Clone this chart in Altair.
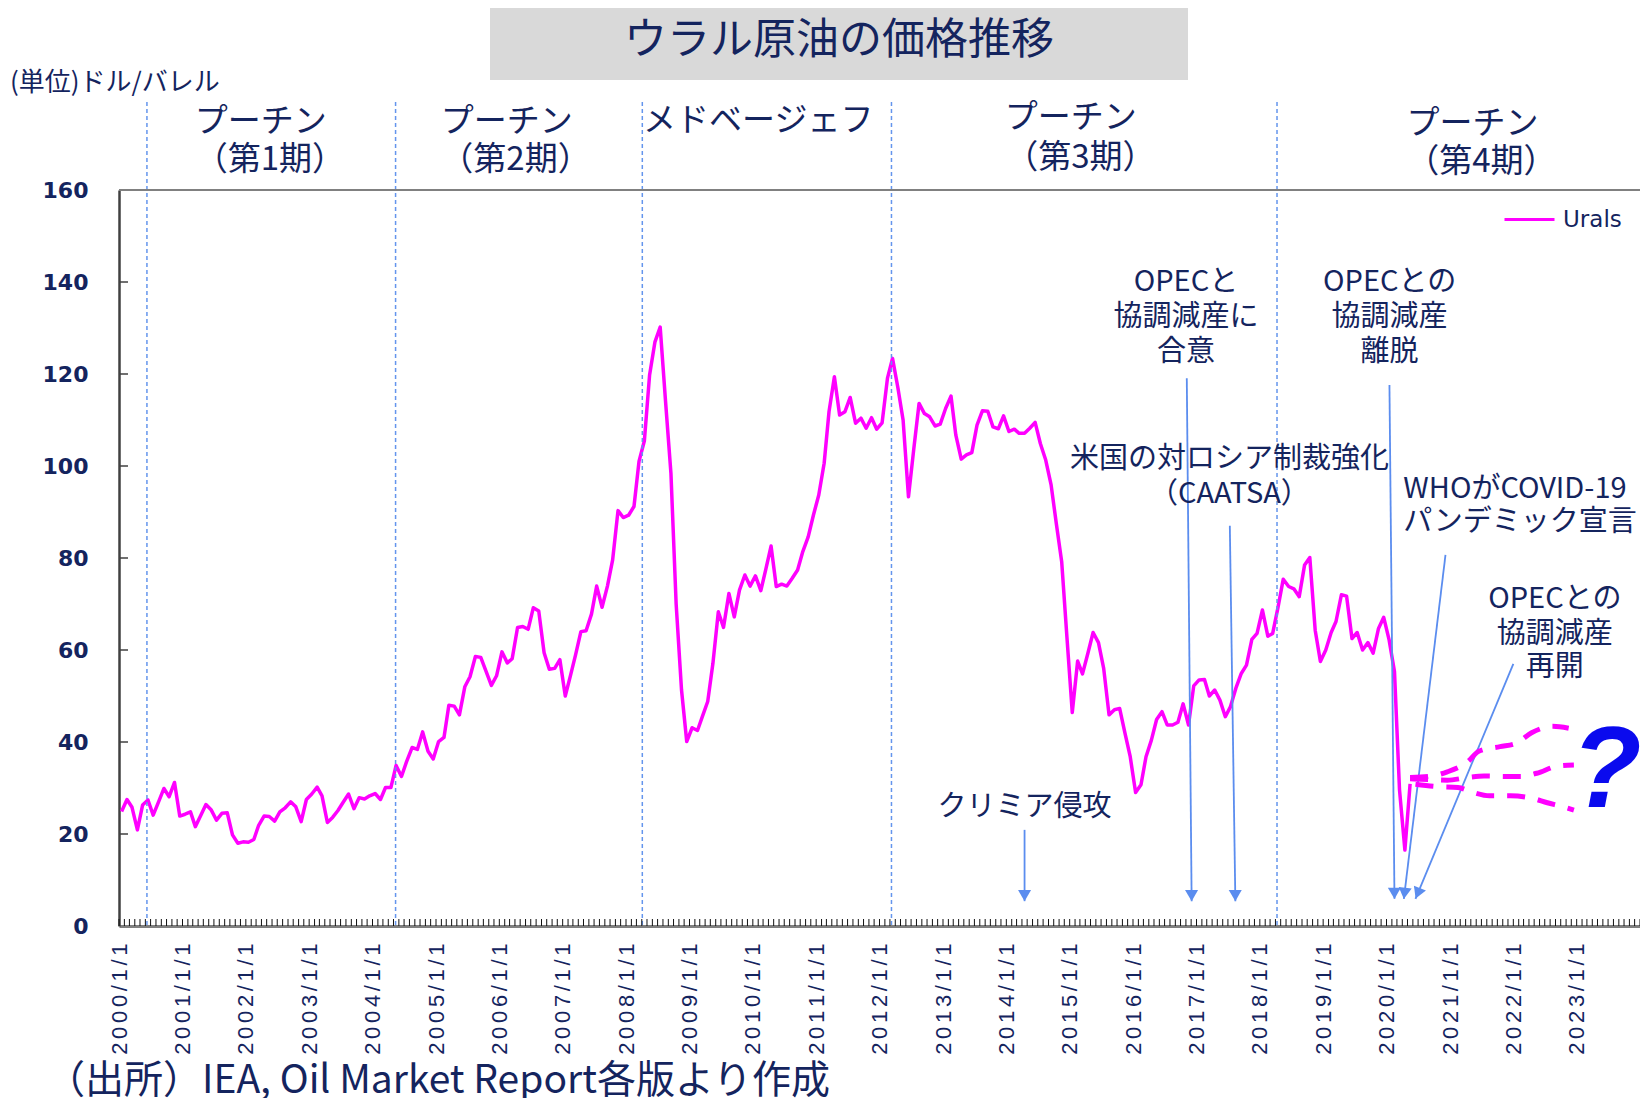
import altair as alt
import pandas as pd

NAVY = "#14245E"
MAGENTA = "#FF00FF"
GUIDE_BLUE = "#6495ED"
ARROW_BLUE = "#5B8DEF"
JP = "Noto Sans CJK JP"

# ---------------- data ----------------
series_name = "Urals"
urals = [
    24.9, 27.5, 25.8, 20.9, 26.3, 27.4, 24.1, 27.0, 29.9, 28.1, 31.2, 23.9,   # 2000
    24.3, 24.8, 21.6, 24.0, 26.4, 25.2, 23.0, 24.5, 24.6, 19.8, 18.0, 18.3,   # 2001
    18.2, 18.8, 21.9, 23.9, 23.8, 22.8, 24.8, 25.7, 27.0, 25.9, 22.7, 27.5,   # 2002
    28.7, 30.2, 28.3, 22.5, 23.6, 25.1, 26.9, 28.7, 25.5, 27.9, 27.6, 28.3,   # 2003
    28.8, 27.5, 30.1, 30.1, 34.9, 32.5, 35.8, 38.8, 38.4, 42.2, 38.0, 36.3,   # 2004
    40.1, 41.0, 48.0, 47.8, 45.9, 52.0, 54.2, 58.6, 58.4, 55.4, 52.3, 54.4,   # 2005
    59.6, 57.2, 58.1, 64.9, 65.1, 64.5, 69.2, 68.5, 59.4, 55.8, 56.0, 57.9,   # 2006
    50.0, 54.6, 58.9, 64.0, 64.2, 67.8, 73.9, 69.3, 73.9, 79.6, 90.3, 88.8,   # 2007
    89.3, 91.2, 101.0, 105.5, 119.8, 127.0, 130.2, 114.0, 98.4, 70.0, 51.3, 40.1,  # 2008
    43.1, 42.5, 45.5, 48.8, 57.1, 68.3, 64.9, 72.3, 67.2, 73.0, 76.3, 73.9,   # 2009
    76.1, 72.9, 77.4, 82.6, 73.8, 74.3, 73.9, 75.6, 77.4, 81.4, 84.6, 89.3,   # 2010
    93.7, 100.6, 111.8, 119.4, 111.1, 111.8, 114.9, 109.3, 110.4, 108.2, 110.5, 108.0,  # 2011
    109.4, 119.1, 123.4, 117.0, 110.0, 93.3, 103.5, 113.6, 111.4, 110.7, 108.7, 109.1,  # 2012
    112.5, 115.2, 106.7, 101.5, 102.4, 102.9, 108.9, 112.0, 111.9, 108.5, 108.1, 110.9,  # 2013
    107.5, 108.0, 107.1, 107.1, 108.2, 109.5, 104.9, 101.3, 95.9, 87.5, 79.2, 62.9,  # 2014
    46.4, 57.6, 54.8, 59.3, 63.8, 61.6, 56.0, 45.9, 47.0, 47.3, 41.9, 36.8,   # 2015
    29.0, 30.7, 36.8, 40.4, 44.9, 46.6, 43.7, 43.7, 44.3, 48.3, 43.7, 52.2,   # 2016
    53.5, 53.6, 50.0, 51.3, 49.1, 45.5, 47.7, 51.7, 54.9, 56.7, 62.3, 63.6,   # 2017
    68.7, 63.0, 63.6, 69.3, 75.4, 73.8, 73.3, 71.6, 78.5, 80.1, 64.3, 57.5,   # 2018
    60.0, 63.8, 66.2, 72.0, 71.7, 62.5, 63.8, 60.0, 61.6, 59.3, 64.7, 67.1,   # 2019
    62.2, 55.3, 29.6, 16.5, 30.9,                                             # 2020
]

fc_upper_months = ["2020-05", "2020-09", "2020-12", "2021-04", "2021-06", "2021-10", "2022-01", "2022-04", "2022-08", "2022-11"]
fc_upper_vals = [32.3, 32.6, 33.5, 35.8, 38.0, 39.0, 39.7, 42.0, 43.4, 43.0]
fc_mid_months = ["2020-05", "2020-09", "2020-12", "2021-04", "2021-07", "2021-11", "2022-02", "2022-05", "2022-09", "2022-12"]
fc_mid_vals = [32.0, 31.8, 31.7, 32.3, 32.6, 32.5, 32.5, 33.2, 34.8, 35.0]
fc_low_months = ["2020-06", "2020-10", "2021-02", "2021-05", "2021-08", "2021-12", "2022-04", "2022-07", "2022-10", "2022-12"]
fc_low_vals = [30.8, 30.3, 30.1, 29.0, 28.3, 28.3, 27.8, 26.8, 25.9, 25.2]

year_ticks = list(range(2000, 2024))
y_ticks = [0, 20, 40, 60, 80, 100, 120, 140, 160]

term_line_dates = ["2000-06-10", "2004-05-13", "2008-04-04", "2012-03-10", "2018-04-10"]
term_texts = ["プーチン", "（第1期）", "プーチン", "（第2期）", "メドベージェフ", "プーチン", "（第3期）", "プーチン", "（第4期）"]
term_dates = ["2002-03-28", "2002-05-19", "2006-02-13", "2006-04-04", "2010-02-01", "2015-01-07", "2015-03-04", "2021-05-10", "2021-07-01"]
term_levels = [174.8, 166.6, 174.8, 166.6, 175.0, 175.7, 167.0, 174.4, 166.1]

event_texts = ["クリミア侵攻",
               "OPECと", "協調減産に", "合意",
               "米国の対ロシア制裁強化", "（CAATSA）",
               "OPECとの", "協調減産", "離脱",
               "OPECとの", "協調減産", "再開"]
event_dates = ["2014-04-16",
               "2016-11-01", "2016-11-01", "2016-11-01",
               "2017-07-10", "2017-07-10",
               "2020-01-19", "2020-01-19", "2020-01-19",
               "2022-08-28", "2022-08-28", "2022-08-28"]
event_levels = [25.9,
                140.0, 132.4, 124.8,
                101.5, 93.9,
                140.0, 132.4, 124.8,
                71.1, 63.5, 56.3]

who_texts = ["WHOがCOVID-19", "パンデミック宣言"]
who_dates = ["2020-04-07", "2020-04-07"]
who_levels = [95.0, 87.8]

arrow_top_dates = ["2014-04-16", "2016-11-06", "2017-07-12", "2020-01-18", "2020-12-06", "2022-01-01"]
arrow_top_vals = [20.9, 119.1, 87.0, 117.6, 80.7, 57.0]
arrow_tip_dates = ["2014-04-16", "2016-12-04", "2017-08-13", "2020-02-16", "2020-04-10", "2020-06-16"]
arrow_tip_vals = [5.4, 5.4, 5.4, 5.9, 5.9, 5.9]
arrow_angles = [0, 359.4, 359.2, 359.4, 6.9, 22.5]

question_date = "2023-06-21"
question_level = 25.9

title_text = "ウラル原油の価格推移"
unit_text = "(単位)ドル/バレル"
source_text = "（出所）IEA, Oil Market Report各版より作成"

# ---------------- tables ----------------
months = pd.date_range("2000-01-01", periods=len(urals), freq="MS")
price_df = pd.DataFrame({
    "date": (months + pd.Timedelta(days=15)).strftime("%Y-%m-%d"),
    "price": urals,
    "series": series_name,
})

fc_rows = []
for name, ms, vs in [("upper", fc_upper_months, fc_upper_vals),
                     ("mid", fc_mid_months, fc_mid_vals),
                     ("low", fc_low_months, fc_low_vals)]:
    for m, v in zip(ms, vs):
        fc_rows.append({"date": m + "-16", "price": v, "scenario": name})
fc_df = pd.DataFrame(fc_rows)

month_df = pd.DataFrame({"d": pd.date_range("2000-01-01", "2024-01-01", freq="MS").strftime("%Y-%m-%d")})
ytick_df = pd.DataFrame({"v": y_ticks[1:-1]})
top_df = pd.DataFrame({"v": [y_ticks[-1]]})
term_line_df = pd.DataFrame({"d": term_line_dates})
term_df = pd.DataFrame({"d": term_dates, "v": term_levels, "t": term_texts})
event_df = pd.DataFrame({"d": event_dates, "v": event_levels, "t": event_texts})
who_df = pd.DataFrame({"d": who_dates, "v": who_levels, "t": who_texts})

tip_t = pd.to_datetime(arrow_tip_dates)
top_t = pd.to_datetime(arrow_top_dates)
frac = [1.2 / (a - b) for a, b in zip(arrow_top_vals, arrow_tip_vals)]
head_t = [tp + (tt - tp) * f for tp, tt, f in zip(tip_t, top_t, frac)]
arrow_df = pd.DataFrame({
    "d0": top_t.strftime("%Y-%m-%dT%H:%M:%SZ"),
    "v0": arrow_top_vals,
    "d1": tip_t.strftime("%Y-%m-%dT%H:%M:%SZ"),
    "v1": arrow_tip_vals,
    "hd": [h.strftime("%Y-%m-%dT%H:%M:%SZ") for h in head_t],
    "hv": [b + 1.2 for b in arrow_tip_vals],
    "ang": arrow_angles,
})
q_df = pd.DataFrame({"d": [question_date], "v": [question_level], "t": ["?"]})
one_df = pd.DataFrame({"title": [title_text], "unit": [unit_text], "source": [source_text]})

# ---------------- scales ----------------
x_scale = alt.Scale(type="utc", domain=[alt.DateTime(year=2000, month=1, date=1, utc=True),
                                        alt.DateTime(year=2024, month=1, date=1, utc=True)])
y_scale = alt.Scale(domain=[0, 160], nice=False, zero=True)

W, H = 1521, 736

def xd(field):
    return alt.X(field, scale=x_scale, axis=None)

def yd(field):
    return alt.Y(field, scale=y_scale, axis=None)

# ---------------- layers ----------------
title_box = alt.Chart(one_df).mark_rect(color="#D9D9D9").encode(
    x=alt.value(371), x2=alt.value(1069), y=alt.value(-182), y2=alt.value(-110))
title = alt.Chart(one_df).mark_text(font=JP, fontSize=43, color=NAVY, align="center", baseline="middle").encode(
    x=alt.value(720), y=alt.value(-149), text="title:N")
unit = alt.Chart(one_df).mark_text(font=JP, fontSize=26, color=NAVY, align="left", baseline="middle").encode(
    x=alt.value(-109), y=alt.value(-107), text="unit:N")
source = alt.Chart(one_df).mark_text(font=JP, fontSize=39, color=NAVY, align="left", baseline="middle").encode(
    x=alt.value(-73), y=alt.value(891), text="source:N")

top_line = alt.Chart(top_df).mark_rule(color="#808080", strokeWidth=2).encode(
    y=yd("v:Q"), x=alt.value(0), x2=alt.value(W))
month_ticks = alt.Chart(month_df).mark_rule(color="#111111", strokeWidth=1).encode(
    x=xd("d:T"), y=alt.value(H), y2=alt.value(H - 7))
y_inner_ticks = alt.Chart(ytick_df).mark_rule(color="#404040", strokeWidth=1.5).encode(
    y=yd("v:Q"), x=alt.value(0), x2=alt.value(9))

term_lines = alt.Chart(term_line_df).mark_rule(color=GUIDE_BLUE, strokeWidth=1.5, strokeDash=[4, 3]).encode(
    x=xd("d:T"), y=alt.value(-88), y2=alt.value(H))
term_labels = alt.Chart(term_df).mark_text(font=JP, fontSize=33, color=NAVY, align="center", baseline="middle").encode(
    x=xd("d:T"), y=yd("v:Q"), text="t:N")

arrows = alt.Chart(arrow_df).mark_rule(color=ARROW_BLUE, strokeWidth=1.8).encode(
    x=xd("d0:T"), y=yd("v0:Q"), x2="d1:T", y2="v1:Q")
heads = alt.Chart(arrow_df).mark_point(shape="triangle-down", filled=True, size=170, color=ARROW_BLUE, opacity=1).encode(
    x=xd("hd:T"), y=yd("hv:Q"), angle=alt.Angle("ang:Q", scale=None))

events = alt.Chart(event_df).mark_text(font=JP, fontSize=29, color=NAVY, align="center", baseline="middle").encode(
    x=xd("d:T"), y=yd("v:Q"), text="t:N")
who = alt.Chart(who_df).mark_text(font=JP, fontSize=29, color=NAVY, align="left", baseline="middle").encode(
    x=xd("d:T"), y=yd("v:Q"), text="t:N")

forecast = alt.Chart(fc_df).mark_line(color=MAGENTA, strokeWidth=5, strokeDash=[18, 13], interpolate="monotone").encode(
    x=xd("date:T"), y=yd("price:Q"), detail="scenario:N")

label_expr = "join(split(utcFormat(datum.value, '%Y') + '/1/1', ''), '\u2006')"
main = alt.Chart(price_df).mark_line(strokeWidth=3.5, strokeJoin="round").encode(
    x=alt.X("date:T", scale=x_scale, axis=alt.Axis(
        values=[alt.DateTime(year=y, month=1, date=1, utc=True) for y in year_ticks],
        labelExpr=label_expr, labelAngle=270, labelAlign="right", labelBaseline="middle",
        labelPadding=17, ticks=False, tickSize=0, labelFont="Liberation Sans", labelFontSize=22,
        labelColor=NAVY, domainColor="#7F7F7F", domainWidth=3, grid=False, title=None,
        labelOverlap=False, labelFlush=False, labelBound=False)),
    y=alt.Y("price:Q", scale=y_scale, axis=alt.Axis(
        values=y_ticks, ticks=False, tickSize=0, labelPadding=31, labelFont="DejaVu Sans",
        labelFontWeight="bold", labelFontSize=22, labelColor=NAVY, domainColor="#404040",
        domainWidth=2.5, grid=False, title=None, labelOverlap=False, labelFlush=False)),
    color=alt.Color("series:N", scale=alt.Scale(domain=[series_name], range=[MAGENTA]),
                    legend=alt.Legend(title=None, orient="none", legendX=1384, legendY=3,
                                      symbolType="stroke", symbolStrokeWidth=3, symbolSize=2500,
                                      labelFont="DejaVu Sans", labelFontSize=23, labelColor=NAVY,
                                      labelOffset=7, padding=0)),
)

question = alt.Chart(q_df).mark_text(font="Liberation Sans", fontSize=115, fontWeight="bold", fontStyle="italic",
                                     color="#0A0AEE", align="center", baseline="alphabetic").encode(
    x=xd("d:T"), y=yd("v:Q"), text="t:N")

chart = alt.layer(
    main,
    title_box, title, unit, source,
    term_lines, term_labels,
    arrows, heads, events, who,
    forecast, question,
    month_ticks, y_inner_ticks, top_line,
).resolve_axis(
    x="independent", y="independent"
).properties(
    width=W, height=H,
    padding={"left": 111, "top": 182, "right": 0, "bottom": 172},
    autosize="none",
    background="white",
).configure_view(strokeWidth=0)

chart.save("out.html", embed_options={"renderer": "svg", "actions": False})
